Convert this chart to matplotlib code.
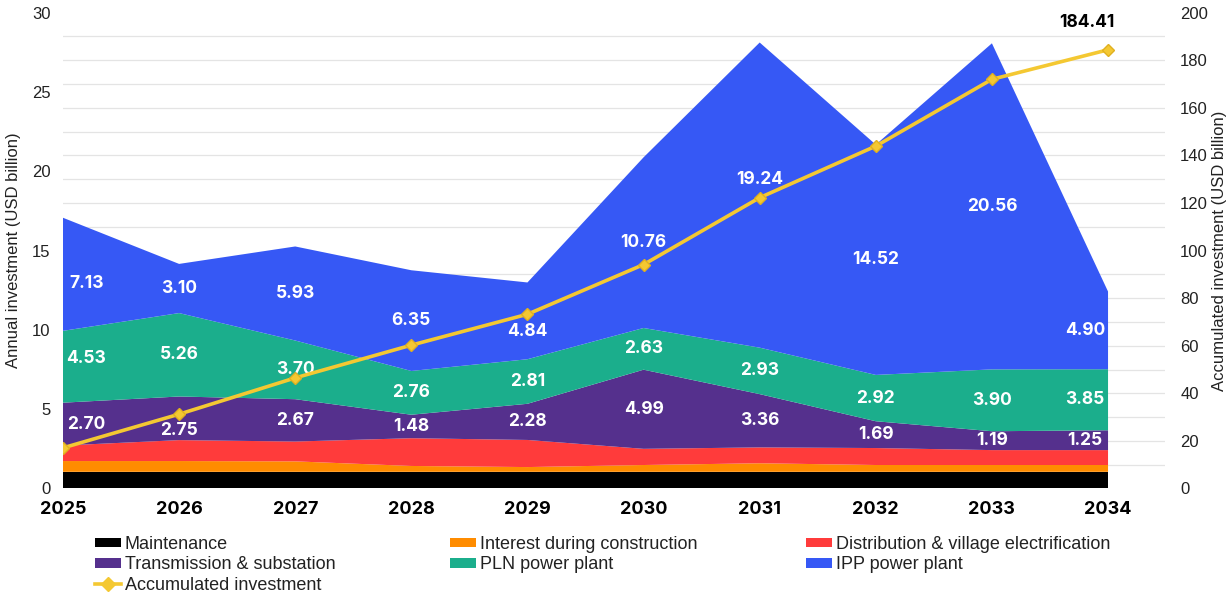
import matplotlib
matplotlib.use("Agg")
import matplotlib.pyplot as plt
from matplotlib.patches import Patch
from matplotlib.lines import Line2D
from matplotlib.ticker import MultipleLocator
import numpy as np

# Annual investment by component (USD billion)
years = [2025, 2026, 2027, 2028, 2029, 2030, 2031, 2032, 2033, 2034]
maintenance = [1.05, 1.05, 1.05, 1.05, 1.05, 1.05, 1.05, 1.05, 1.05, 1.05]
interest = [0.68, 0.68, 0.66, 0.37, 0.30, 0.43, 0.54, 0.43, 0.43, 0.43]
distribution = [0.98, 1.32, 1.25, 1.75, 1.71, 1.02, 1.00, 1.07, 0.94, 0.94]
transmission = [2.70, 2.75, 2.67, 1.48, 2.28, 4.99, 3.36, 1.69, 1.19, 1.25]
pln_plant = [4.53, 5.26, 3.70, 2.76, 2.81, 2.63, 2.93, 2.92, 3.90, 3.85]
ipp_plant = [7.13, 3.10, 5.93, 6.35, 4.84, 10.76, 19.24, 14.52, 20.56, 4.90]

# Running total (USD billion)
accumulated = [17.07, 31.23, 46.49, 60.25, 73.24, 94.12, 122.24, 143.92, 171.99, 184.41]

series_names = ["Maintenance", "Interest during construction",
                "Distribution & village electrification",
                "Transmission & substation", "PLN power plant", "IPP power plant"]
colors = ["#000000", "#FF8C00", "#FF3B3B", "#55308D", "#1BAE8C", "#3658F5"]
line_color = "#F4C832"

text_font = ["Liberation Sans", "DejaVu Sans"]
bold_font = ["Inter", "DejaVu Sans"]

# nudges for value labels that would sit on the line: (layer, year index) -> dy
label_nudge = {(0, 1): -0.75, (1, 0): 0.5, (2, 0): -0.6, (2, 4): -0.65, (2, 6): 1.0}

fig = plt.figure(figsize=(12.3, 5.96), dpi=100)
ax = fig.add_axes([0.0512, 0.1804, 0.8959, 0.7983])

layers = [maintenance, interest, distribution, transmission, pln_plant, ipp_plant]
ax.stackplot(years, *layers, colors=colors, linewidth=0, zorder=2)

ax.set_xlim(2025, 2034.49)
ax.set_ylim(0, 30)
ax.yaxis.set_major_locator(MultipleLocator(5))
ax.yaxis.set_minor_locator(MultipleLocator(1.5))
ax.grid(which="minor", axis="y", color="#e4e4e4", linewidth=0.9)
ax.set_axisbelow(True)
for s in ax.spines.values():
    s.set_visible(False)
ax.tick_params(which="both", length=0)
ax.tick_params(axis="y", pad=9, labelsize=12, labelcolor="#222222")
ax.tick_params(axis="x", pad=9)
ax.set_xticks(years)
ax.set_xticklabels([str(y) for y in years], fontsize=13, fontweight="bold",
                   family=bold_font)
for lbl in ax.get_yticklabels():
    lbl.set_family(text_font)
ax.set_ylabel("Annual investment (USD billion)", fontsize=12, family=text_font,
              color="#222222", labelpad=8)

# white value labels in the middle of the three upper layers
base = np.array(maintenance) + np.array(interest) + np.array(distribution)
for k, vals in enumerate([transmission, pln_plant, ipp_plant]):
    vals = np.array(vals)
    for i, yr in enumerate(years):
        x = yr
        if i == 0:
            x += 0.2
        elif i == len(years) - 1:
            x -= 0.2
        y = base[i] + vals[i] / 2 + label_nudge.get((k, i), 0)
        ax.text(x, y, "%.2f" % vals[i], color="white",
                fontsize=12.5, fontweight="bold", family=bold_font,
                ha="center", va="center", zorder=5)
    base = base + vals

# accumulated investment on the right axis
ax2 = ax.twinx()
ax2.set_ylim(0, 200)
ax2.yaxis.set_major_locator(MultipleLocator(20))
ax2.plot(years, accumulated, color=line_color, linewidth=2.6, marker="D",
         markersize=6, markerfacecolor=line_color, markeredgecolor="#E0B020",
         zorder=4)
ax2.text(years[-1] - 0.18, accumulated[-1] + 8, "%.2f" % accumulated[-1],
         color="black", fontsize=12.5, fontweight="bold", family=bold_font,
         ha="center", va="bottom")
for s in ax2.spines.values():
    s.set_visible(False)
ax2.tick_params(length=0, pad=11, labelsize=12, labelcolor="#222222")
for lbl in ax2.get_yticklabels():
    lbl.set_family(text_font)
ax2.set_ylabel("Accumulated investment (USD billion)", fontsize=12,
               family=text_font, color="#222222", labelpad=3)

# legend laid out as three columns
handles = [Patch(facecolor=c, edgecolor="none") for c in colors]
acc_handle = Line2D([], [], color=line_color, linewidth=2.6, marker="D",
                    markersize=7, markerfacecolor=line_color)
columns = [
    ([handles[0], handles[3], acc_handle],
     [series_names[0], series_names[3], "Accumulated investment"], 95),
    ([handles[1], handles[4]], [series_names[1], series_names[4]], 450),
    ([handles[2], handles[5]], [series_names[2], series_names[5]], 806),
]
for hs, labels, xpix in columns:
    leg = fig.legend(hs, labels, loc="upper left",
                     bbox_to_anchor=(xpix / 1230, 1 - 536 / 596),
                     frameon=False, borderpad=0, borderaxespad=0,
                     handlelength=1.45, handleheight=0.45, handletextpad=0.2,
                     labelspacing=0.18, prop={"family": text_font, "size": 13})
    for t in leg.get_texts():
        t.set_color("#222222")

fig.savefig("out.png", dpi=100)
